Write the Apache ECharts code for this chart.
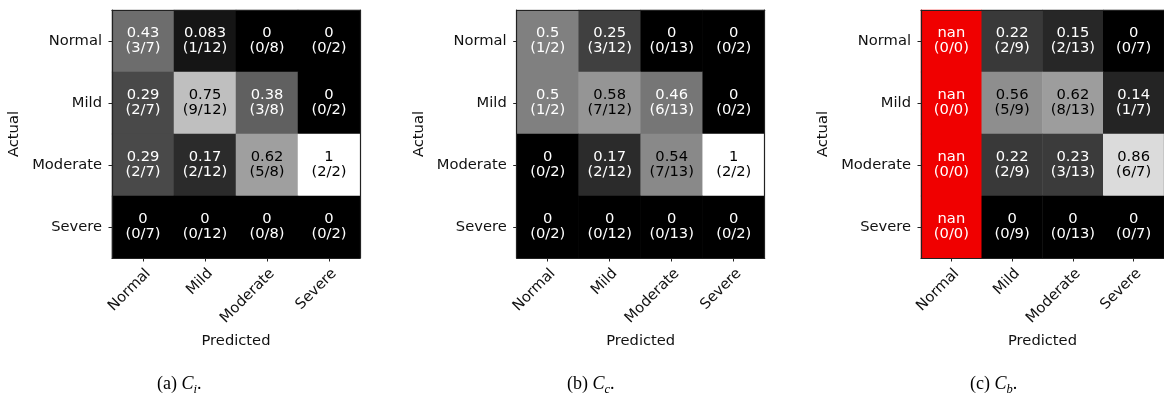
<!DOCTYPE html>
<html>
<head>
<meta charset="utf-8">
<script src="https://cdn.jsdelivr.net/npm/echarts@6/dist/echarts.min.js"></script>
<style>
html,body{margin:0;padding:0;background:#fff;}
#chart{width:1164px;height:395px;}
</style>
</head>
<body>
<div id="chart"></div>
<script>
// ---- data ----
const actualLabels = ['Normal', 'Mild', 'Moderate', 'Severe'];
const predictedLabels = ['Normal', 'Mild', 'Moderate', 'Severe'];

// counts[actualRow][predictedCol]
const countsA = [[3, 1, 0, 0], [2, 9, 3, 0], [2, 2, 5, 2], [0, 0, 0, 0]];
const totalsA = [7, 12, 8, 2];
const countsB = [[1, 3, 0, 0], [1, 7, 6, 0], [0, 2, 7, 2], [0, 0, 0, 0]];
const totalsB = [2, 12, 13, 2];
const countsC = [[0, 2, 2, 0], [0, 5, 8, 1], [0, 2, 3, 6], [0, 0, 0, 0]];
const totalsC = [0, 9, 13, 7];

const captionLetters = ['a', 'b', 'c'];
const captionSubs = ['i', 'c', 'b'];
const xAxisTitle = 'Predicted';
const yAxisTitle = 'Actual';

// ---- layout ----
const panels = [
  {counts: countsA, totals: totalsA, left: 112, capLeft: 152},
  {counts: countsB, totals: totalsB, left: 516.7, capLeft: 562},
  {counts: countsC, totals: totalsC, left: 921, capLeft: 965}
];
const TOP = 10, SIZE = 248;
const FONT = 'DejaVu Sans';
const FS = 14.7;

function fmt2g(n, d) {
  if (d === 0) return 'nan';
  if (n === 0) return '0';
  const v = n / d;
  const e = Math.floor(Math.log10(v));
  const scale = Math.pow(10, 1 - e);
  const x = v * scale;
  let f = Math.floor(x + 1e-12);
  const r = x - f;
  if (Math.abs(r - 0.5) < 1e-9) { if (f % 2 === 1) f += 1; }
  else if (r > 0.5) f += 1;
  return String(Number((f / scale).toPrecision(2)));
}
function gray(v) {
  const g = Math.round(v * 255);
  return 'rgb(' + g + ',' + g + ',' + g + ')';
}

const grids = [], xAxes = [], yAxes = [], series = [], titles = [];
panels.forEach((p, i) => {
  grids.push({left: p.left, top: TOP, width: SIZE, height: SIZE, containLabel: false});
  const lineStyle = {color: '#222', width: 1.2};
  xAxes.push({
    type: 'category', gridIndex: i, data: predictedLabels, position: 'bottom', z: 5,
    axisLine: {show: true, lineStyle: lineStyle},
    axisTick: {show: true, alignWithLabel: true, length: 3.5, lineStyle: {color: '#222', width: 1}},
    axisLabel: {rotate: 45, margin: 8, align: 'right', verticalAlign: 'top', fontFamily: FONT, fontSize: FS, color: '#111', interval: 0},
    name: xAxisTitle, nameLocation: 'middle', nameGap: 76,
    nameTextStyle: {fontFamily: FONT, fontSize: FS, color: '#111'},
    splitLine: {show: false}
  });
  xAxes.push({
    type: 'category', gridIndex: i, data: predictedLabels, position: 'top', z: 5,
    axisLine: {show: true, lineStyle: lineStyle}, axisTick: {show: false}, axisLabel: {show: false}, splitLine: {show: false}
  });
  yAxes.push({
    type: 'category', gridIndex: i, data: actualLabels, inverse: true, position: 'left', z: 5,
    axisLine: {show: true, lineStyle: lineStyle},
    axisTick: {show: true, alignWithLabel: true, length: 3.5, lineStyle: {color: '#222', width: 1}},
    axisLabel: {margin: 10, fontFamily: FONT, fontSize: FS, color: '#111', interval: 0},
    name: yAxisTitle, nameLocation: 'middle', nameGap: 90, nameRotate: 90,
    nameTextStyle: {fontFamily: FONT, fontSize: FS, color: '#111'},
    splitLine: {show: false}
  });
  yAxes.push({
    type: 'category', gridIndex: i, data: actualLabels, inverse: true, position: 'right', z: 5,
    axisLine: {show: true, lineStyle: lineStyle}, axisTick: {show: false}, axisLabel: {show: false}, splitLine: {show: false}
  });
  const data = [];
  for (let r = 0; r < actualLabels.length; r++) {
    for (let c = 0; c < predictedLabels.length; c++) {
      const n = p.counts[r][c], d = p.totals[c];
      const isNan = d === 0;
      const v = isNan ? 0 : n / d;
      data.push({
        value: [c, r, v],
        txt: fmt2g(n, d) + '\n(' + n + '/' + d + ')',
        itemStyle: {color: isNan ? '#f00000' : gray(v)},
        label: {color: (!isNan && v > 0.5) ? '#000' : '#fff'}
      });
    }
  }
  series.push({
    type: 'heatmap', xAxisIndex: 2 * i, yAxisIndex: 2 * i, data: data,
    label: {show: true, fontFamily: FONT, fontSize: FS, lineHeight: 15,
      formatter: (prm) => prm.data.txt},
    emphasis: {disabled: true}, animation: false
  });
  titles.push({
    text: '(' + captionLetters[i] + ') {c|C}{s|' + captionSubs[i] + '}.',
    left: p.capLeft, top: 367,
    textStyle: {
      fontFamily: 'Liberation Serif', fontSize: 18, fontWeight: 'normal', color: '#000', lineHeight: 24,
      rich: {
        c: {fontFamily: 'Liberation Serif', fontSize: 18, fontStyle: 'italic', color: '#000', lineHeight: 24},
        s: {fontFamily: 'Liberation Serif', fontSize: 12.5, fontStyle: 'italic', color: '#000', verticalAlign: 'bottom', lineHeight: 14}
      }
    }
  });
});

const chart = echarts.init(document.getElementById('chart'), null, {renderer: 'canvas'});
chart.setOption({
  animation: false,
  backgroundColor: '#fff',
  title: titles,
  grid: grids,
  xAxis: xAxes,
  yAxis: yAxes,
  series: series
});
</script>
</body>
</html>
